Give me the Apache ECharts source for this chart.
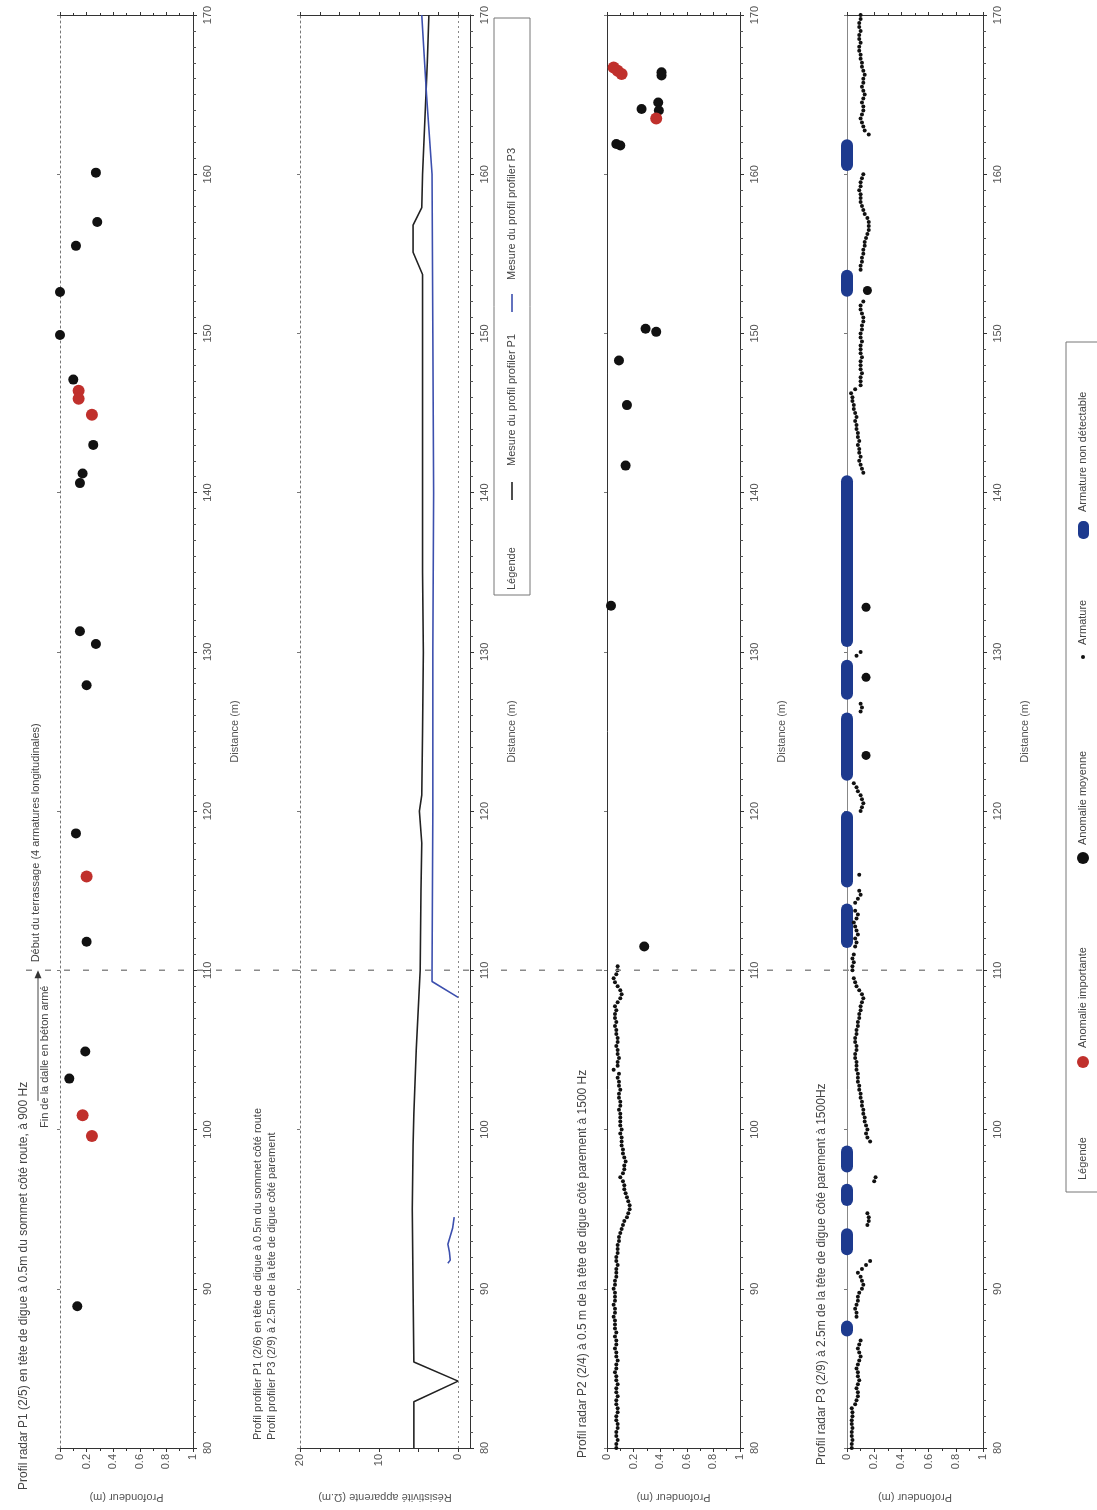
<!DOCTYPE html>
<html>
<head>
<meta charset="utf-8">
<script src="https://cdn.jsdelivr.net/npm/echarts@6/dist/echarts.min.js"></script>
<style>
  html, body { margin: 0; padding: 0; background: #fff; }
  #c { width: 1097px; height: 1510px; }
</style>
</head>
<body>
<div id="c"></div>
<script>
// ---- Distance range along the dike (m) ----
const DIST_MIN = 80;
const DIST_MAX = 170;
const DIST_MARK = 110;          // end of reinforced slab / start of earthwork

// ---- Radar P1 (2/5), 900 Hz : anomalies [depth m, distance m] ----
const p1Moyenne = [[0.27,160.1],[0.28,157.0],[0.12,155.5],[0.0,152.6],[0.0,149.9],[0.10,147.1],
  [0.25,143.0],[0.17,141.2],[0.15,140.6],[0.15,131.3],[0.27,130.5],[0.20,127.9],[0.12,118.6],
  [0.20,111.8],[0.19,104.9],[0.07,103.2],[0.13,88.9]];
const p1Importante = [[0.14,146.4],[0.14,145.9],[0.24,144.9],[0.20,115.9],[0.17,100.9],[0.24,99.6]];

// ---- Profiler P1 / P3 : apparent resistivity [value, distance m] ----
const profilerP1 = [[5.6,80],[5.6,82.9],[0,84.2],[5.6,85.4],[5.7,90],[5.8,95],[5.7,99],[5.6,101],
  [5.3,105],[4.8,110],[4.7,115],[4.6,118],[4.9,120],[4.6,121],[4.5,125],[4.4,130],[4.5,135],
  [4.5,140],[4.5,145],[4.5,150],[4.5,153.7],[5.7,155.1],[5.7,156.8],[4.6,157.9],[4.5,160],
  [4.2,163.5],[3.9,167],[3.7,170]];
const profilerP3a = [[1.3,91.6],[1.0,91.8],[1.1,92.3],[1.3,92.8],[1.0,93.3],[0.7,93.8],[0.5,94.5]];
const profilerP3b = [[0,108.3],[3.3,109.3],[3.3,110],[3.2,120],[3.2,130],[3.1,140],[3.2,150],
  [3.3,160],[4.0,165],[4.6,170]];

// ---- Radar P2 (2/4), 1500 Hz : reinforcement depth every 0.25 m from 80 m ----
const P2_START = 80;
const STEP = 0.25;
const p2Armature = [
  0.07,0.07,0.08,0.07,0.07,0.08,0.08,0.07,0.07,0.08,0.08,0.07,0.07,0.08,0.07,0.07,0.08,0.07,0.07,0.06,
  0.07,0.07,0.08,0.07,0.07,0.06,0.07,0.07,0.06,0.07,0.06,
  0.06,0.06,0.05,0.06,0.06,0.05,0.06,0.06,0.06,0.05,0.06,0.06,0.07,
  0.07,0.07,0.08,0.07,0.07,0.08,0.08,0.08,0.09,
  0.09,0.10,0.11,0.12,0.13,
  0.15,0.16,0.17,0.17,0.16,0.15,0.14,
  0.13,0.13,0.12,0.10,
  0.12,0.13,0.13,0.14,0.13,0.12,0.12,0.11,
  0.11,0.11,0.10,0.11,0.10,0.10,0.10,
  0.10,0.09,0.10,0.10,0.09,0.09,0.10,0.09,0.09,0.08,0.09,
  0.05,
  0.08,0.08,0.09,0.08,0.08,0.07,0.08,0.08,0.07,
  0.07,0.06,0.07,0.06,0.06,0.07,
  0.06,0.08,0.10,0.11,0.10,0.08,0.06,0.05,
  0.07,0.08,0.08];
const p2Moyenne = [[0.41,166.4],[0.41,166.2],[0.26,164.1],[0.385,164.5],[0.39,164.0],[0.07,161.9],
  [0.10,161.8],[0.29,150.3],[0.37,150.1],[0.09,148.3],[0.15,145.5],[0.14,141.7],[0.03,132.9],[0.28,111.5]];
const p2Importante = [[0.05,166.7],[0.08,166.5],[0.11,166.3],[0.37,163.5]];

// ---- Radar P3 (2/9), 1500 Hz : runs of reinforcement depth [start m, depths every 0.25 m] ----
const p3ArmatureRuns = [
  [80.0, [0.035,0.035,0.04,0.035,0.035,0.04,0.035,0.035,0.04,0.04,0.035,
          0.06,0.07,0.08,0.08,0.07,0.08,0.09,0.08,0.08,0.07,0.08,0.09,0.10,0.09,0.08,0.09,0.10]],
  [88.25, [0.07,0.07,0.06,0.07,0.08,0.08,0.09,0.11,0.12,0.11,0.10,0.08,0.11,0.14,0.17]],
  [94.0, [0.15,0.16,0.16,0.15]],
  [96.75, [0.20,0.21]],
  [99.25, [0.17,0.15,0.14,0.15,0.14,0.13,0.13,0.12,0.12,0.11,
           0.11,0.10,0.10,0.09,0.09,0.08,0.08,0.08,0.07,0.07,
           0.07,0.06,0.06,0.07,0.07,0.06,0.06,0.07,0.07,0.08,
           0.08,0.09,0.09,0.10,0.10,0.11,0.12,0.11,0.09,0.07,0.06,0.05]],
  [110.0, [0.04,0.04,0.05,0.04,0.05]],
  [111.5, [0.06,0.07,0.06,0.08,0.07,0.06,0.05,0.07,0.08,0.06]],
  [114.25, [0.06,0.08,0.10,0.09]],
  [116.0, [0.09]],
  [120.0, [0.10,0.11,0.12,0.11,0.10,0.08,0.07,0.05]],
  [126.25, [0.10,0.11,0.10]],
  [129.75, [0.07,0.10]],
  [141.25, [0.12,0.11,0.10,0.09,0.10,0.09,0.09,0.08,0.09,0.08,0.08,0.07,0.07,0.06,0.07,0.06,0.05,0.05,0.04,0.04,0.03,
            0.06,0.10,
            0.10,0.10,0.11,0.10,0.10,0.10,0.11,0.10,0.10,0.10,0.11,0.10,
            0.10,0.11,0.11,0.12,0.12,0.11,0.10,0.10,0.12]],
  [154.0, [0.10,0.10,0.11,0.11,0.12,0.12,0.13,0.13,0.14,0.15,
           0.16,0.16,0.16,0.15,0.13,
           0.12,0.11,0.10,0.10,0.10,0.09,0.10,0.10,0.11,0.12]],
  [162.5, [0.16,0.13,0.12,0.11,0.10,
           0.11,0.12,0.12,0.11,0.12,0.13,0.12,0.11,0.12,0.12,0.13,0.12,0.11,0.11,0.10,0.10,
           0.09,0.09,0.10,0.09,0.09,0.10,0.09,0.09,0.10,0.10]]
];
const p3NonDetectable = [[87.0,88.0],[92.1,93.8],[95.2,96.6],[97.3,99.0],[111.4,114.2],[115.2,120.0],
  [121.9,126.2],[127.0,129.5],[130.3,141.1],[152.3,154.0],[160.2,162.2]];
const p3Moyenne = [[0.15,152.7],[0.14,132.8],[0.14,128.4],[0.14,123.5]];

// ---- Styling ----
const FONT = '"Liberation Sans", Arial, sans-serif';
const TXT = '#555';
const AXIS = '#333';
const RED = '#c0302c';
const BLACK = '#111';
const NAVY = '#1d3a8e';
const LINE_BLUE = '#3c4fae';

function runsToPoints(runs) {
  const pts = [];
  runs.forEach(([start, depths]) => depths.forEach((v, i) => pts.push([v, start + i * STEP])));
  return pts;
}
const p2Points = p2Armature.map((v, i) => [v, P2_START + i * STEP]);
const p3Points = runsToPoints(p3ArmatureRuns);

const grids = [
  { left: 60,  top: 15, width: 133, height: 1433 },
  { left: 300, top: 15, width: 170, height: 1433 },
  { left: 607, top: 15, width: 133, height: 1433 },
  { left: 847, top: 15, width: 136, height: 1433 }
];

const labelStyle = { color: TXT, fontSize: 11, fontFamily: FONT };
const nameStyle = { color: TXT, fontSize: 11, fontFamily: FONT };

function depthAxisBottom(gi) {
  return {
    gridIndex: gi, type: 'value', min: 0, max: 1, interval: 0.2, position: 'bottom',
    axisLine: { show: true, onZero: false, lineStyle: { color: AXIS, width: 1 } },
    axisTick: { show: true, length: 4, lineStyle: { color: AXIS } },
    minorTick: { show: true, splitNumber: 2, length: 3, lineStyle: { color: AXIS } },
    axisLabel: Object.assign({ rotate: 90, margin: 6 }, labelStyle),
    splitLine: { show: false },
    name: 'Profondeur (m)', nameLocation: 'middle', nameGap: 44, nameRotate: 180,
    nameTextStyle: nameStyle
  };
}
function depthAxisTop(gi) {
  return {
    gridIndex: gi, type: 'value', min: 0, max: 1, interval: 0.2, position: 'top',
    axisLine: { show: true, onZero: false, lineStyle: { color: AXIS, width: 1 } },
    axisTick: { show: true, length: 3, lineStyle: { color: AXIS } },
    minorTick: { show: true, splitNumber: 2, length: 2, lineStyle: { color: AXIS } },
    axisLabel: { show: false }, splitLine: { show: false }
  };
}
function distAxisRight(gi) {
  return {
    gridIndex: gi, type: 'value', min: DIST_MIN, max: DIST_MAX, interval: 10, position: 'right',
    axisLine: { show: true, onZero: false, lineStyle: { color: AXIS, width: 1 } },
    axisTick: { show: true, length: 4, lineStyle: { color: AXIS } },
    minorTick: { show: true, splitNumber: 10, length: 3, lineStyle: { color: '#555' } },
    axisLabel: Object.assign({ rotate: 90, margin: 9 }, labelStyle),
    splitLine: { show: false },
    name: 'Distance (m)', nameLocation: 'middle', nameGap: 36, nameRotate: 90,
    nameTextStyle: nameStyle
  };
}
function distAxisLeft(gi, dotted, color) {
  return {
    gridIndex: gi, type: 'value', min: DIST_MIN, max: DIST_MAX, interval: 10, position: 'left',
    axisLine: { show: true, onZero: false, lineStyle: { color: color, width: 1, type: dotted ? [2, 3] : 'solid' } },
    axisTick: { show: true, length: 3, lineStyle: { color: '#777' } },
    axisLabel: { show: false }, splitLine: { show: false }
  };
}

const RESIST_TICKS = [0, 2.5, 5, 7.5, 10, 12.5, 15, 17.5, 20];
const RESIST_LABELS = [0, 10, 20];
const resistAxisBottom = {
  gridIndex: 1, type: 'value', min: -1.5, max: 20, inverse: true, position: 'bottom',
  axisLine: { show: true, onZero: false, lineStyle: { color: AXIS, width: 1 } },
  axisTick: { show: true, length: 4, customValues: RESIST_TICKS, lineStyle: { color: AXIS } },
  axisLabel: Object.assign({ rotate: 90, margin: 6, customValues: RESIST_LABELS }, labelStyle),
  splitLine: { show: false },
  name: 'Résistivité apparente (Ω.m)', nameLocation: 'middle', nameGap: 44, nameRotate: 180,
  nameTextStyle: nameStyle
};
const resistAxisTop = {
  gridIndex: 1, type: 'value', min: -1.5, max: 20, inverse: true, position: 'top',
  axisLine: { show: true, onZero: false, lineStyle: { color: AXIS, width: 1 } },
  axisTick: { show: true, length: 3, customValues: RESIST_TICKS, lineStyle: { color: AXIS } },
  axisLabel: { show: false }, splitLine: { show: false }
};

const xAxes = [depthAxisBottom(0), depthAxisTop(0), resistAxisBottom, resistAxisTop,
               depthAxisBottom(2), depthAxisTop(2), depthAxisBottom(3), depthAxisTop(3)];
const yAxes = [distAxisRight(0), distAxisLeft(0, true, '#777'),
               distAxisRight(1), distAxisLeft(1, true, '#777'),
               distAxisRight(2), distAxisLeft(2, false, '#333'),
               distAxisRight(3), distAxisLeft(3, false, '#888')];

function scatter(gi, data, size, color, z) {
  return { type: 'scatter', xAxisIndex: gi * 2, yAxisIndex: gi * 2, data: data,
    symbol: 'circle', symbolSize: size, itemStyle: { color: color, opacity: 1 }, z: z || 2,
    silent: true, animation: false };
}

const series = [
  scatter(0, p1Moyenne, 10, BLACK),
  scatter(0, p1Importante, 12, RED, 3),
  { type: 'line', xAxisIndex: 2, yAxisIndex: 2, data: profilerP1, symbol: 'none',
    lineStyle: { color: '#222', width: 1.6 }, animation: false,
    markLine: { silent: true, symbol: 'none', label: { show: false },
      lineStyle: { color: '#888', type: [2, 3], width: 1 }, data: [{ xAxis: 0 }] } },
  { type: 'line', xAxisIndex: 2, yAxisIndex: 2, data: profilerP3a, symbol: 'none',
    lineStyle: { color: LINE_BLUE, width: 1.6 }, animation: false },
  { type: 'line', xAxisIndex: 2, yAxisIndex: 2, data: profilerP3b, symbol: 'none',
    lineStyle: { color: LINE_BLUE, width: 1.6 }, animation: false },
  scatter(2, p2Points, 4, BLACK),
  scatter(2, p2Moyenne, 10, BLACK, 3),
  scatter(2, p2Importante, 12, RED, 4),
  { type: 'custom', xAxisIndex: 6, yAxisIndex: 6, data: p3NonDetectable.map(r => [0, r[0], r[1]]),
    encode: { x: 0, y: [1, 2] }, animation: false, silent: true, z: 2,
    renderItem: function (params, api) {
      const a = api.coord([0, api.value(1)]);
      const b = api.coord([0, api.value(2)]);
      const w = 12;
      return { type: 'rect', shape: { x: a[0] - w / 2, y: b[1], width: w, height: a[1] - b[1], r: w / 2 },
        style: { fill: NAVY } };
    } },
  scatter(3, p3Points, 4, BLACK, 3),
  scatter(3, p3Moyenne, 9, BLACK, 4)
];

const chart = echarts.init(document.getElementById('c'), null, { renderer: 'canvas' });
chart.setOption({
  backgroundColor: '#fff',
  animation: false,
  grid: grids,
  xAxis: xAxes,
  yAxis: yAxes,
  series: series
});

// ---- Annotations, titles and legends (vertical text) ----
function vtext(x, y, text, size, color) {
  return { type: 'text', x: x, y: y, rotation: Math.PI / 2, silent: true,
    style: { text: text, font: size + 'px ' + FONT, fill: color || '#444',
      align: 'left', verticalAlign: 'middle', textAlign: 'left', textVerticalAlign: 'middle' } };
}
const yMark = chart.convertToPixel({ yAxisIndex: 0 }, DIST_MARK);
const yFin = chart.convertToPixel({ yAxisIndex: 0 }, 101.8);

const graphics = [
  { type: 'line', silent: true, shape: { x1: 26, y1: yMark, x2: 1000, y2: yMark },
    style: { stroke: '#8a8a8a', lineWidth: 1.5, lineDash: [6, 13] }, z: 10 },
  // panel titles
  vtext(24, 1490, 'Profil radar P1 (2/5) en tête de digue à 0.5m du sommet côté route, à 900 Hz', 12),
  vtext(45, 1128, 'Fin de la dalle en béton armé', 11),
  { type: 'line', silent: true, shape: { x1: 38, y1: yFin, x2: 38, y2: yMark + 6 },
    style: { stroke: '#444', lineWidth: 1 } },
  { type: 'polygon', silent: true, shape: { points: [[34.5, yMark + 8], [41.5, yMark + 8], [38, yMark]] },
    style: { fill: '#333' } },
  vtext(36, yMark - 8, 'Début du terrassage (4 armatures longitudinales)', 11),
  vtext(258, 1440, 'Profil profiler P1 (2/6) en tête de digue à 0.5m du sommet côté route', 11),
  vtext(272, 1440, 'Profil profiler P3 (2/9) à 2.5m de la tête de digue côté parement', 11),
  vtext(583, 1458, 'Profil radar P2 (2/4) à 0.5 m de la tête de digue côté parement à 1500 Hz', 12),
  vtext(822, 1465, 'Profil radar P3 (2/9) à 2.5m de la tête de digue côté parement à 1500Hz', 12),

  // resistivity legend
  { type: 'rect', silent: true, shape: { x: 494, y: 18, width: 36, height: 577 },
    style: { fill: 'none', stroke: '#777', lineWidth: 1 } },
  vtext(512, 590, 'Légende', 11),
  { type: 'line', silent: true, shape: { x1: 512, y1: 500, x2: 512, y2: 482 }, style: { stroke: '#222', lineWidth: 1.6 } },
  vtext(512, 466, 'Mesure du profil profiler P1', 11),
  { type: 'line', silent: true, shape: { x1: 512, y1: 312, x2: 512, y2: 294 }, style: { stroke: LINE_BLUE, lineWidth: 1.6 } },
  vtext(512, 280, 'Mesure du profil profiler P3', 11),

  // anomaly legend
  { type: 'rect', silent: true, shape: { x: 1066, y: 342, width: 40, height: 850 },
    style: { fill: 'none', stroke: '#777', lineWidth: 1 } },
  vtext(1083, 1180, 'Légende', 11),
  { type: 'circle', silent: true, shape: { cx: 1083, cy: 1062, r: 6 }, style: { fill: RED } },
  vtext(1083, 1048, 'Anomalie importante', 11),
  { type: 'circle', silent: true, shape: { cx: 1083, cy: 858, r: 6 }, style: { fill: BLACK } },
  vtext(1083, 845, 'Anomalie moyenne', 11),
  { type: 'circle', silent: true, shape: { cx: 1083, cy: 657, r: 2 }, style: { fill: BLACK } },
  vtext(1083, 645, 'Armature', 11),
  { type: 'rect', silent: true, shape: { x: 1078, y: 521, width: 11, height: 18, r: 5 }, style: { fill: NAVY } },
  vtext(1083, 512, 'Armature non détectable', 11)
];
chart.setOption({ graphic: graphics });
</script>
</body>
</html>
